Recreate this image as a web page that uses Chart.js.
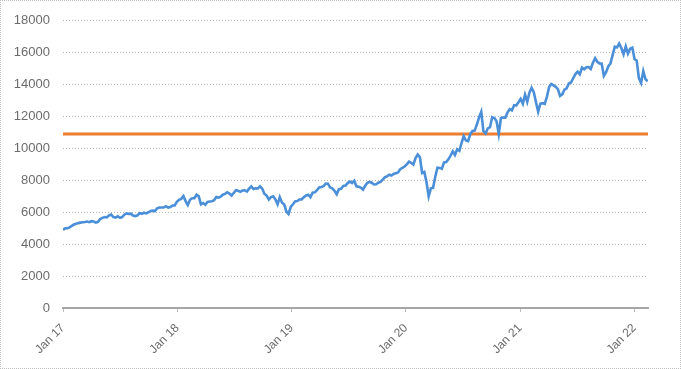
<!DOCTYPE html>
<html>
<head>
<meta charset="utf-8">
<script src="https://cdn.jsdelivr.net/npm/chart.js@4/dist/chart.umd.min.js"></script>
<style>
  body { margin: 0; background: #fff; }
  #wrap { position: relative; width: 681px; height: 369px; }
  #frame { position: absolute; left: 0; top: 0; width: 681px; height: 369px; box-sizing: border-box; border: 1px dotted #bdbdbd; pointer-events: none; }
</style>
</head>
<body>
<div id="wrap">
  <canvas id="chart" width="681" height="369"></canvas>
  <div id="frame"></div>
</div>
<script>
// Weekly closes, first week starting Mon 2 Jan 2017
const startYear = 2017;
const weeks2017 = [4900, 4990, 5000, 5050, 5150, 5230, 5280, 5320, 5350, 5370, 5390, 5420, 5380, 5440, 5420, 5350, 5400, 5580, 5650, 5700, 5680, 5800, 5860, 5700, 5660, 5750, 5650, 5700, 5850, 5930, 5900, 5910, 5800, 5760, 5800, 5950, 5900, 5970, 5930, 6000, 6080, 6100, 6080, 6250, 6300, 6300, 6300, 6380, 6290, 6330, 6420, 6430];
const weeks2018 = [6650, 6780, 6840, 7020, 6700, 6450, 6780, 6880, 6880, 7100, 7000, 6500, 6580, 6470, 6650, 6670, 6690, 6750, 6960, 6920, 6980, 7100, 7150, 7250, 7170, 7040, 7220, 7380, 7350, 7280, 7370, 7380, 7300, 7480, 7620, 7460, 7500, 7500, 7630, 7480, 7150, 7050, 6800, 6950, 7000, 6800, 6500, 6950, 6600, 6500, 6050, 5900];
const weeks2019 = [6330, 6500, 6680, 6700, 6800, 6800, 6950, 7050, 7100, 6950, 7230, 7250, 7380, 7560, 7580, 7640, 7800, 7790, 7550, 7500, 7350, 7130, 7450, 7470, 7650, 7670, 7830, 7920, 7830, 7980, 7630, 7600, 7550, 7420, 7660, 7850, 7900, 7850, 7740, 7750, 7850, 7900, 8050, 8200, 8250, 8350, 8300, 8400, 8450, 8500, 8700, 8780];
const weeks2020 = [8870, 9000, 9170, 9100, 8990, 9400, 9620, 9450, 8460, 8530, 7880, 7000, 7500, 7530, 8230, 8800, 8780, 8720, 9120, 9150, 9320, 9550, 9820, 9590, 9950, 9850, 10340, 10770, 10500, 10460, 10900, 11100, 11120, 11500, 11950, 12300, 11080, 10940, 11260, 11330, 11950, 11900, 11700, 10900, 11900, 11940, 11930, 12260, 12460, 12380, 12700, 12700];
const weeks2021 = [12890, 13100, 12800, 13370, 12920, 13500, 13800, 13530, 12900, 12300, 12800, 12840, 12800, 13250, 13850, 14040, 13950, 13860, 13720, 13290, 13390, 13690, 13770, 14070, 14130, 14400, 14660, 14810, 14640, 15060, 14960, 15090, 15100, 14980, 15370, 15650, 15430, 15330, 15310, 14550, 14780, 15140, 15330, 15850, 16380, 16330, 16570, 16280, 15900, 16400, 15950, 16250];
const weeks2022 = [16320, 15600, 15500, 14400, 14100, 14850, 14350, 14200];

const referenceLevel = 10900;
const yearTicks = [2017, 2018, 2019, 2020, 2021, 2022];
const xMax = 2022.12;

const weekly = [].concat(weeks2017, weeks2018, weeks2019, weeks2020, weeks2021, weeks2022);
const lineData = weekly.map((v, i) => ({ x: startYear + i * 7 / 365.25, y: v }));
const refData = [{ x: startYear, y: referenceLevel }, { x: xMax, y: referenceLevel }];

const textColor = '#6b6b6b';

new Chart(document.getElementById('chart'), {
  type: 'line',
  data: {
    datasets: [
      { data: lineData, borderColor: '#4a8fd8', borderWidth: 2.6, pointRadius: 0, tension: 0 },
      { data: refData, borderColor: '#ed7d31', borderWidth: 3, pointRadius: 0 }
    ]
  },
  options: {
    responsive: false,
    animation: false,
    layout: { padding: { left: 0, top: 18, right: 33, bottom: 0 } },
    plugins: { legend: { display: false }, tooltip: { enabled: false } },
    scales: {
      x: {
        type: 'linear',
        min: startYear,
        max: xMax,
        afterBuildTicks: scale => { scale.ticks = yearTicks.map(v => ({ value: v })); },
        afterFit: scale => { scale.height = 61; },
        ticks: {
          autoSkip: false,
          minRotation: 45,
          maxRotation: 45,
          color: textColor,
          padding: 9,
          font: { family: 'Liberation Sans', size: 12 },
          callback: v => 'Jan ' + String(v).slice(2)
        },
        grid: { drawOnChartArea: false, drawTicks: true, tickLength: 4, color: '#bfbfbf' },
        border: { display: true, color: '#a6a6a6', width: 2 }
      },
      y: {
        min: 0,
        max: 18000,
        afterFit: scale => { scale.width = 63; },
        ticks: {
          stepSize: 2000,
          color: textColor,
          padding: 13,
          font: { family: 'Liberation Sans', size: 13 },
          callback: v => String(v)
        },
        grid: {
          drawTicks: false,
          color: c => c.tick && c.tick.value === 0 ? 'rgba(0,0,0,0)' : '#b8b8b8'
        },
        border: { display: false, dash: [1, 2] }
      }
    }
  }
});
</script>
</body>
</html>
